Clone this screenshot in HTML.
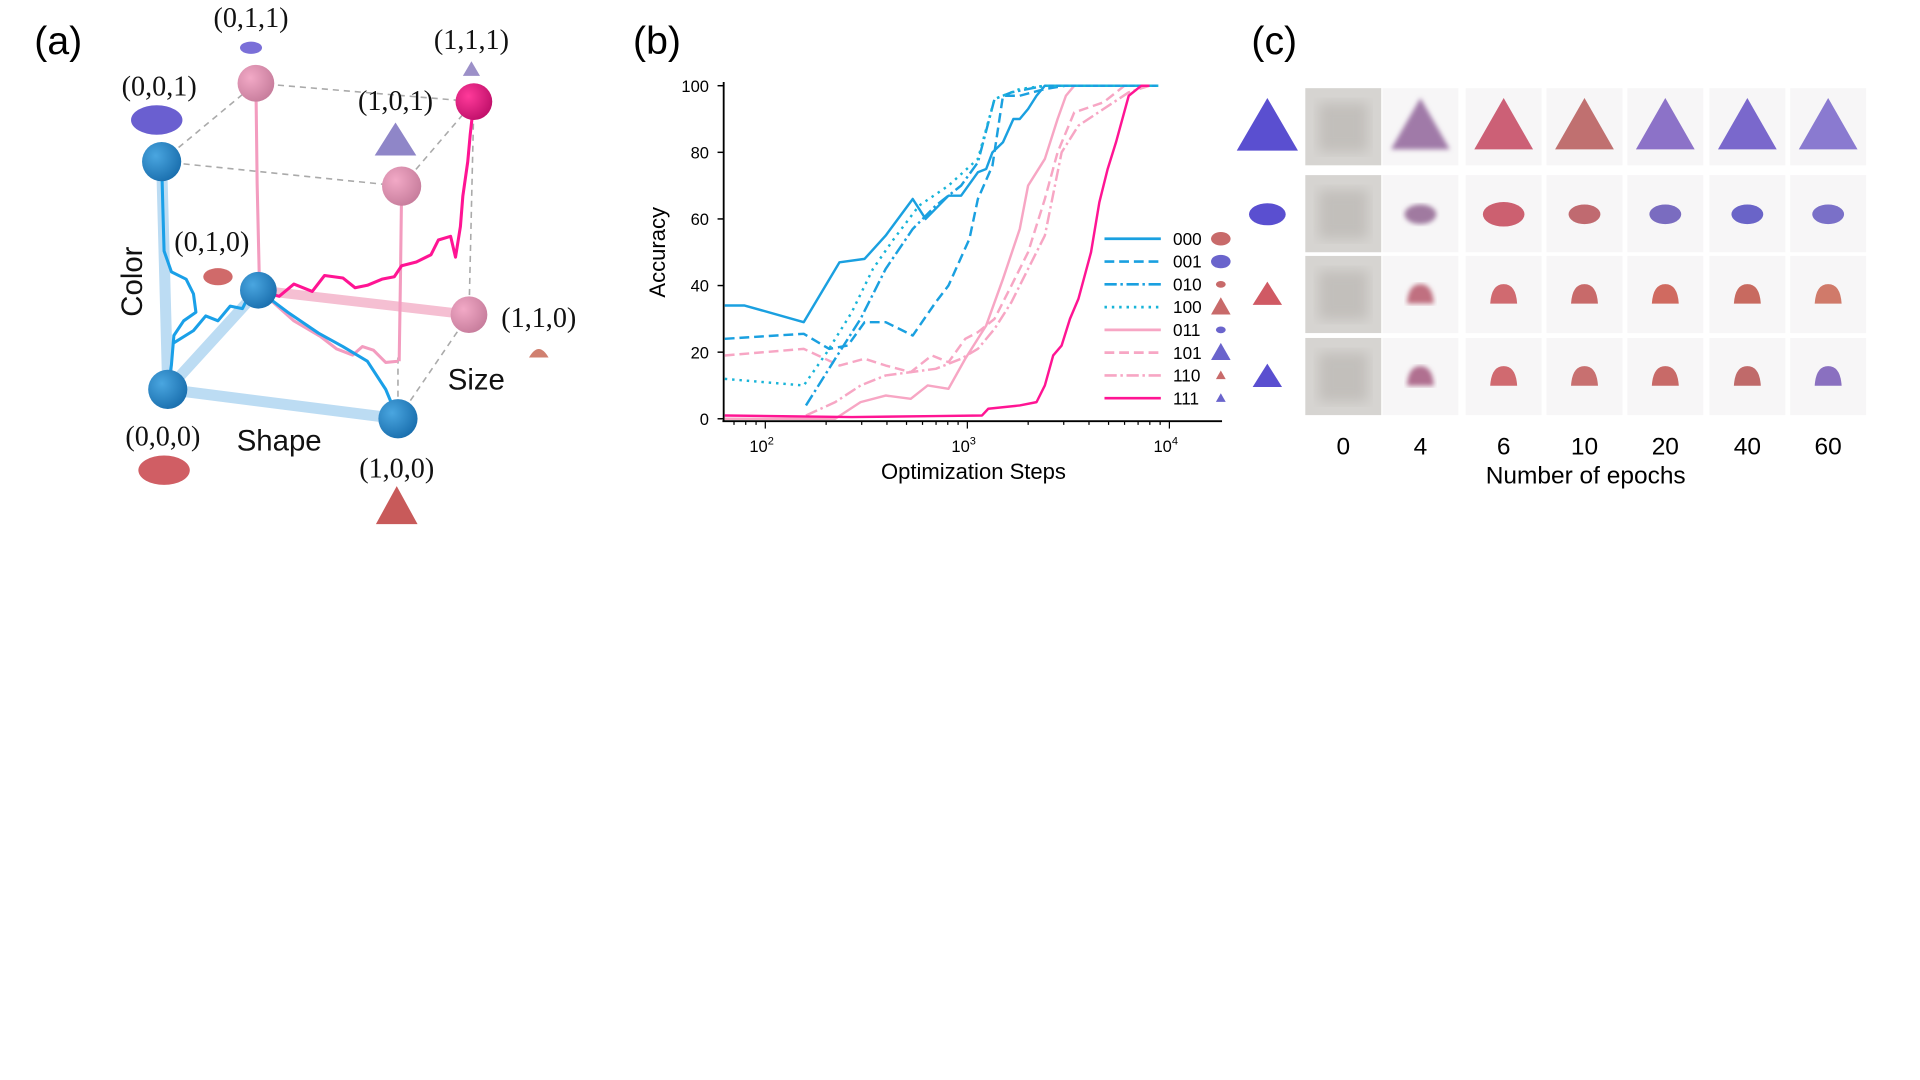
<!DOCTYPE html>
<html><head><meta charset="utf-8"><style>
html,body{margin:0;padding:0;background:#fff;}
svg{display:block;}
.serif{font-family:"Liberation Serif",serif;}
.sans{font-family:"Liberation Sans","DejaVu Sans",sans-serif;}
</style></head><body>
<svg id="fig" width="1920" height="1080" viewBox="0 0 1568 882" preserveAspectRatio="none" xmlns="http://www.w3.org/2000/svg">
<defs>
<radialGradient id="gb" cx="0.35" cy="0.35" r="0.7"><stop offset="0" stop-color="#4aa6e0"/><stop offset="1" stop-color="#1a6fae"/></radialGradient>
<radialGradient id="gp" cx="0.35" cy="0.35" r="0.7"><stop offset="0" stop-color="#f2a9c6"/><stop offset="1" stop-color="#c77d9c"/></radialGradient>
<radialGradient id="gm" cx="0.35" cy="0.35" r="0.7"><stop offset="0" stop-color="#ff3a9a"/><stop offset="1" stop-color="#c0106a"/></radialGradient>
<filter id="blur"><feGaussianBlur stdDeviation="2"/></filter>
<filter id="blur2"><feGaussianBlur stdDeviation="5"/></filter>
</defs>

<!-- Panel A -->
<g>
<text x="28" y="44" font-size="32" class="sans">(a)</text>
<g stroke="#aaa" stroke-dasharray="5,4" stroke-width="1.3" fill="none">
<line x1="132" y1="132" x2="209" y2="68"/><line x1="209" y1="68" x2="387" y2="83"/>
<line x1="132" y1="132" x2="328" y2="152"/><line x1="328" y1="152" x2="387" y2="83"/>
<line x1="387" y1="83" x2="383" y2="257"/><line x1="325" y1="342" x2="383" y2="257"/>
<line x1="325" y1="342" x2="325" y2="290"/>
</g>
<g stroke="#bcdcf3" stroke-width="9" stroke-linecap="round">
<line x1="137" y1="318" x2="325" y2="342"/><line x1="137" y1="318" x2="132" y2="132"/><line x1="137" y1="318" x2="211" y2="237"/>
</g>
<line x1="211" y1="237" x2="383" y2="257" stroke="#f5bfd2" stroke-width="8"/>
<g fill="none" stroke-width="2.5" stroke-linejoin="round">
<polyline stroke="#f39cbf" points="209,68 210,150 212,237"/>
<polyline stroke="#f39cbf" points="328,152 327,230 326,295"/>
<polyline stroke="#f39cbf" points="212,237 240,262 262,275 275,285 288,290 296,283 305,286 315,296 325,295"/>
<polyline stroke="#1aa0e8" points="132,132 133,170 134,205 140,222 152,228 158,240 160,255 150,262 142,274 140,298 137,318"/>
<polyline stroke="#1aa0e8" points="142,280 158,270 168,258 178,262 188,250 198,252 205,238 211,237"/>
<polyline stroke="#1aa0e8" points="211,237 235,255 260,272 280,283 300,295 315,318 325,342"/>
<polyline stroke="#ff1493" points="211,237 228,242 240,232 255,238 265,225 280,227 290,235 300,233 312,228 322,226 328,217 340,214 352,208 358,196 368,193 372,210 376,185 378,160 382,132 384,110 387,83"/>
</g>
<circle cx="137" cy="318" r="16" fill="url(#gb)"/>
<circle cx="325" cy="342" r="16" fill="url(#gb)"/>
<circle cx="132" cy="132" r="16" fill="url(#gb)"/>
<circle cx="211" cy="237" r="15" fill="url(#gb)"/>
<circle cx="209" cy="68" r="15" fill="url(#gp)"/>
<circle cx="328" cy="152" r="16" fill="url(#gp)"/>
<circle cx="383" cy="257" r="15" fill="url(#gp)"/>
<circle cx="387" cy="83" r="15" fill="url(#gm)"/>
<g class="serif" font-size="23" fill="#111" text-anchor="middle">
<text x="205" y="22">(0,1,1)</text>
<text x="385" y="40">(1,1,1)</text>
<text x="130" y="78">(0,0,1)</text>
<text x="323" y="90">(1,0,1)</text>
<text x="173" y="205">(0,1,0)</text>
<text x="440" y="267">(1,1,0)</text>
<text x="133" y="364">(0,0,0)</text>
<text x="324" y="390">(1,0,0)</text>
</g>
<g class="sans" font-size="24" fill="#111">
<text x="116" y="230" transform="rotate(-90 116 230)" text-anchor="middle">Color</text>
<text x="228" y="368" text-anchor="middle">Shape</text>
<text x="389" y="318" text-anchor="middle">Size</text>
</g>
<g>
<ellipse cx="128" cy="98" rx="21" ry="12" fill="#6a5fd0"/>
<ellipse cx="205" cy="39" rx="9" ry="5" fill="#7a6fd8"/>
<polygon points="385,50 378,62 392,62" fill="#9c90c8"/>
<polygon points="323,100 306,127 340,127" fill="#8f86c8"/>
<ellipse cx="178" cy="226" rx="12" ry="7" fill="#d06a6a"/>
<path d="M432,292 Q440,278 448,292 Z" fill="#d08070"/>
<ellipse cx="134" cy="384" rx="21" ry="12" fill="#d05e64"/>
<polygon points="324,397 307,428 341,428" fill="#c85a5a"/>
</g>
</g>

<!-- Panel B -->
<g id="panelB">
<text x="517" y="44" font-size="32" class="sans">(b)</text>
</g>

<!-- Panel C -->
<g id="panelC">
<text x="1022" y="44" font-size="32" class="sans">(c)</text>
</g>
</svg>
<script>
const seriesNames = ["000","001","010","100","011","101","110","111"];
const steps000 = [63,79,155,233,310,394,537,621,807,931,1128,1240,1331,1500,1690,1817,1999,2200,2420,8790];
const acc000   = [34,34,29,47,48,55,66,60,67,67,74,75,80,83,90,90,93,97,100,100];
const steps001 = [63,155,207,256,310,394,537,698,807,1024,1128,1331,1500,1817,2420,3075,8790];
const acc001   = [24,25.5,21,22,29,29,25,35,40,54,66,76,97,97,99,100,100];
const steps010 = [159,222,296,394,537,698,931,1128,1364,1652,2420,8790];
const acc010   = [4,18,30,45,57,64,70,77,96,98,100,100];
const steps100 = [63,155,202,268,341,433,577,807,1128,1364,1817,2420,8790];
const acc100   = [12,10,20,32,45,54,64,70,78,96,99,100,100];
const steps011 = [63,222,296,394,525,636,807,977,1240,1500,1817,1999,2420,2795,3075,3383,7980];
const acc011   = [0,0,5,7,6,10,9,18,28,42,57,70,78,90,97,100,100];
const steps101 = [63,155,233,310,394,525,667,807,977,1128,1364,1652,1999,2420,2795,3383,4720,5995,7980];
const acc101   = [19,21,16,18,16,14,19,17,24,26,30,40,50,66,80,92,95,100,100];
const steps110 = [159,222,296,394,525,698,931,1128,1364,1652,1999,2420,2930,3548,4720,6295,7980];
const acc110   = [1,5,10,13,14,15,18,21,27,35,45,55,80,88,93,98,100];
const steps111 = [63,268,698,1183,1270,1817,2200,2420,2660,2930,3221,3548,4093,4500,4952,5445,6295,7260,7980];
const acc111   = [1,0.5,0.8,1,3,4,5,10,19,22,30,36,50,65,75,83,97,100,100];
const yTicks = [0,20,40,60,80,100];
const xTickExps = [2,3,4];
const epochLabels = ["0","4","6","10","20","40","60"];

const NS = "http://www.w3.org/2000/svg";
function mk(tag, attrs, parent, text){
  const e = document.createElementNS(NS, tag);
  for (const k in attrs) e.setAttribute(k, attrs[k]);
  if (text !== undefined) e.textContent = text;
  parent.appendChild(e);
  return e;
}
const X0 = 591, X1 = 998, Y0 = 342, Y1 = 70;
const logMin = 2 - 34/165, logMax = logMin + (X1 - X0)/165;
function xs(v){ return X0 + (Math.log10(v) - logMin) / (logMax - logMin) * (X1 - X0); }
function ys(v){ return Y0 - v / 100 * (Y0 - Y1); }

const pb = document.getElementById("panelB");
const axes = mk("g", {}, pb);


mk("line", {x1:X0, y1:Y1-3, x2:X0, y2:Y0+2, stroke:"#000", "stroke-width":1.5}, axes);
mk("line", {x1:X0-1, y1:Y0+2, x2:X1, y2:Y0+2, stroke:"#000", "stroke-width":1.5}, axes);
yTicks.forEach(t => {
  const y = ys(t);
  mk("line", {x1:X0-5, y1:y, x2:X0, y2:y, stroke:"#000", "stroke-width":1.2}, axes);
  const tx = mk("text", {x:X0-12, y:y+5, "text-anchor":"end", "font-size":13.5, class:"sans"}, axes, String(t));
  
  
});
for (let e = 1; e <= 4; e++){
  for (let m = 1; m <= 9; m++){
    const v = m * Math.pow(10, e);
    const x = xs(v);
    if (x < X0 || x > X1) continue;
    mk("line", {x1:x, y1:Y0+2, x2:x, y2:Y0+(m===1?8:5), stroke:"#000", "stroke-width":1}, axes);
  }
}
xTickExps.forEach(e => {
  const x = xs(Math.pow(10, e));
  const t = mk("text", {x:x-3, y:Y0+27, "text-anchor":"middle", "font-size":13.5, class:"sans"}, axes);
  
  
  t.appendChild(document.createTextNode("10"));
  const sup = document.createElementNS(NS, "tspan");
  sup.setAttribute("dy", "-6"); sup.setAttribute("font-size", "9");
  sup.textContent = String(e);
  t.appendChild(sup);
});
const xl = mk("text", {x:795, y:391, "text-anchor":"middle", "font-size":18, class:"sans"}, pb, "Optimization Steps");


const yl = mk("text", {x:543, y:206, "text-anchor":"middle", "font-size":18, class:"sans", transform:"rotate(-90 543 206)"}, pb, "Accuracy");



const BLUE = "#1aa0e0", PINK = "#f7a6c4", MAG = "#ff1493";
const styles = [
  {c:BLUE, d:""}, {c:BLUE, d:"8,4"}, {c:BLUE, d:"10,3,2,3"}, {c:"#18b4d8", d:"2,4"},
  {c:PINK, d:""}, {c:PINK, d:"8,4"}, {c:PINK, d:"10,3,2,3"}, {c:MAG, d:""}
];
const allSteps = [steps000,steps001,steps010,steps100,steps011,steps101,steps110,steps111];
const allAcc = [acc000,acc001,acc010,acc100,acc011,acc101,acc110,acc111];
const order = [4,5,6,0,1,2,3,7];
order.forEach(i => {
  const pts = allSteps[i].map((s, j) => xs(s).toFixed(1) + "," + ys(allAcc[i][j]).toFixed(1)).join(" ");
  const pl = mk("polyline", {points:pts, fill:"none", stroke:styles[i].c, "stroke-width":2, "stroke-dasharray":styles[i].d, "stroke-linejoin":"round"}, pb);
  
  
});
// legend
const lg = mk("g", {}, pb);


seriesNames.forEach((n, i) => {
  const y = 195 + i * 18.6;
  const g = mk("g", {}, lg);
  
  
  mk("line", {x1:902, y1:y, x2:948, y2:y, stroke:styles[i].c, "stroke-width":2.2, "stroke-dasharray":styles[i].d}, g);
  mk("text", {x:958, y:y+5, "font-size":14, class:"sans"}, g, n);
  const isTri = n[0] === "1", isSmall = n[1] === "1", isBlue = n[2] === "1";
  const col = isBlue ? "#6a64cc" : "#c86a6a";
  const s = isSmall ? 0.5 : 1;
  if (!isTri) mk("ellipse", {cx:997, cy:y, rx:8*s, ry:5.5*s, fill:col}, g);
  else mk("polygon", {points:`997,${y-8*s} ${997-8*s},${y+6*s} ${997+8*s},${y+6*s}`, fill:col}, g);
});

// Panel C
const pc = document.getElementById("panelC");
const colX = [1097,1160,1228,1294,1360,1427,1493];
const rowY = [104,175,241,308];
const cell = 62;
const leftCols = ["#5a4fd0","#5a4fd0","#d05a64","#5a4fd0"];
rowY.forEach((y, r) => {
  let e;
  if (r === 0) e = mk("polygon", {points:`1035,80 1010,123 1060,123`, fill:leftCols[r]}, pc);
  else if (r === 1) e = mk("ellipse", {cx:1035, cy:y, rx:15, ry:9, fill:leftCols[r]}, pc);
  else e = mk("polygon", {points:`1035,${y-11} 1023,${y+8} 1047,${y+8}`, fill:leftCols[r]}, pc);
  
  
});
const cellCols = [
  ["#888","#a07aa8","#cc6076","#c07070","#8c72c8","#7a68cc","#8a7ad0"],
  ["#888","#a07aa0","#cc6070","#c06a70","#7a6cc0","#6a64c8","#7a70c8"],
  ["#888","#c07080","#d06a70","#c86a6a","#d06a60","#c86a60","#d07a6a"],
  ["#888","#b07090","#d06a70","#c87070","#c86a68","#c06a6a","#8a70c0"]
];
rowY.forEach((y, r) => {
  colX.forEach((x, c) => {
    const g = mk("g", {}, pc);
    
    
    mk("rect", {x:x-cell/2, y:y-cell/2-1, width:cell, height:cell+1, fill: c===0 ? "#d6d4d1" : "#f7f6f7"}, g);
    if (c === 0) { mk("rect", {x:x-20, y:y-20, width:40, height:40, fill:"#c2bfbb", filter:"url(#blur2)"}, g); return; }
    const col = cellCols[r][c];
    const f = c === 1 ? "url(#blur)" : "";
    if (r === 0) mk("polygon", {points:`${x},${y-24} ${x-24},${y+18} ${x+24},${y+18}`, fill:col, filter:f}, g);
    else if (r === 1) mk("ellipse", {cx:x, cy:y, rx: c===2?17:13, ry: c===2?10:8, fill:col, filter:f}, g);
    else mk("path", {d:`M${x-11},${y+7} Q${x-10},${y-9} ${x},${y-9} Q${x+10},${y-9} ${x+11},${y+7} Z`, fill:col, filter:f}, g);
  });
});
epochLabels.forEach((l, i) => {
  const t = mk("text", {x:colX[i], y:371, "text-anchor":"middle", "font-size":20, class:"sans"}, pc, l);
  
  
});
const et = mk("text", {x:1295, y:395, "text-anchor":"middle", "font-size":20, class:"sans"}, pc, "Number of epochs");


</script>
</body></html>
